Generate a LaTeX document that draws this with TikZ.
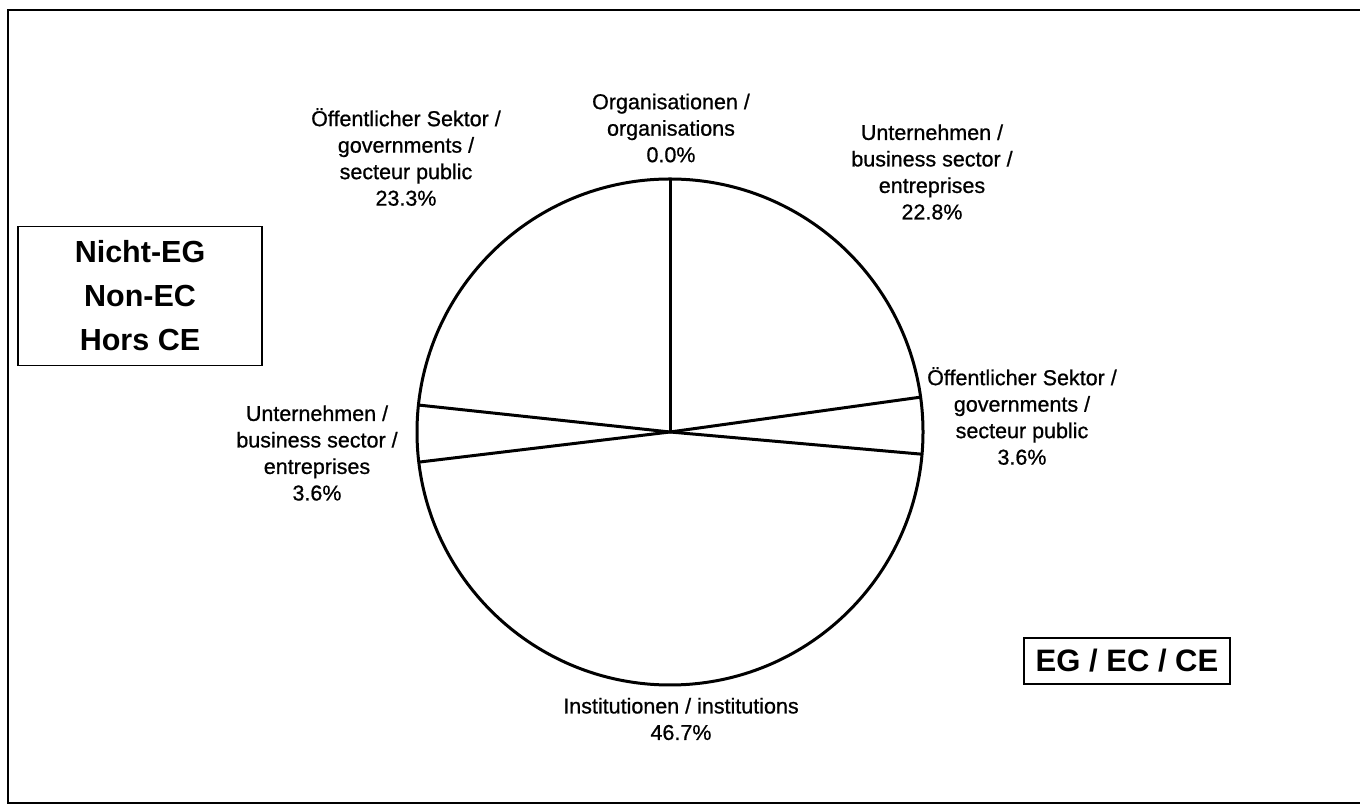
\documentclass[tikz,border=0pt]{standalone}
\usepackage{fontspec}
\setmainfont{Liberation Sans}
\newfontfamily\scanfont[FakeBold=0.8]{Liberation Sans}
\usepackage{tikz}

\begin{document}
\begin{tikzpicture}
            [x=1pt, y=1pt, semithick,
             lbl/.style={align=center, inner sep=0pt, font=\scanfont\fontsize{21.5}{26.5}\selectfont},
             tagbox/.style={draw=black, line width=1.8pt, align=center, inner sep=0pt},
             pieline/.style={draw=black, line width=3pt}]
            \useasboundingbox (0, 0) rectangle (1360, 808);
            % frame, right edge is cut off
            \draw[line width=2pt] (1362, 798) -- (8, 798) -- (8, 5) -- (1362, 5);

            \node[tagbox, minimum width=244, minimum height=139,
                  font=\fontsize{30.5}{44}\selectfont\bfseries] (nonec) at (140, 512) {Nicht-EG\\Non-EC\\Hors CE};
            \node[tagbox, minimum width=206, minimum height=46,
                  font=\fontsize{31}{36}\selectfont\bfseries] (ec) at (1127, 147) {EG / EC / CE};

            % pie
            \coordinate (ctr) at (670, 376);
            \draw[pieline] (ctr) circle (253pt);
            \foreach \a/\n in {90/org, 7.92/bus, -5.04/pub, 186.84/inst, 173.88/busl} {
                \path (ctr) ++(\a:253pt) coordinate (rim\n);
                \draw[pieline] (ctr) -- (rim\n);
            }

            \node[lbl] (publ) at (406, 651) {Öffentlicher Sektor /\\governments /\\secteur public\\23.3\%};
            \node[lbl] (org) at (671, 680) {Organisationen /\\organisations\\0.0\%};
            \node[lbl] (busr) at (932, 636) {Unternehmen /\\business sector /\\entreprises\\22.8\%};
            \node[lbl] (pubr) at (1022, 392) {Öffentlicher Sektor /\\governments /\\secteur public\\3.6\%};
            \node[lbl] (busl) at (317, 355) {Unternehmen /\\business sector /\\entreprises\\3.6\%};
            \node[lbl] (inst) at (681, 89) {Institutionen / institutions\\46.7\%};
        \end{tikzpicture}
\end{document}
